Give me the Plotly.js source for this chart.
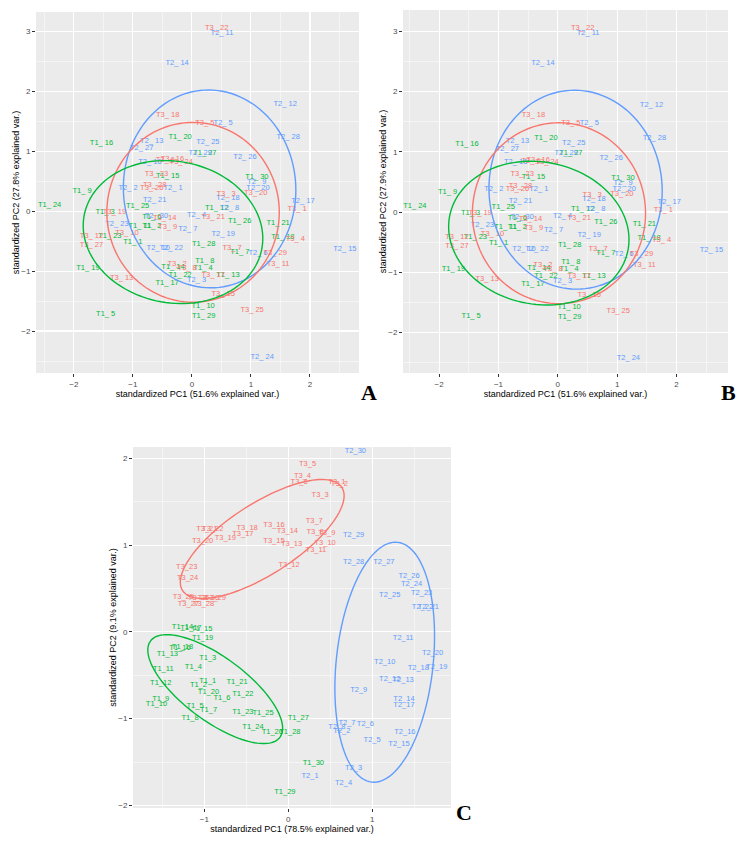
<!DOCTYPE html>
<html>
<head>
<meta charset="utf-8">
<script src="https://cdn.plot.ly/plotly-3.0.1.min.js"></script>
<style>html,body{margin:0;padding:0;background:#fff;}#chart{width:754px;height:842px;}</style>
</head>
<body>
<div id="chart"></div>
<script>
// ---------- Panels A and B (same scores) ----------
const AB_T1_ids = [16,20,9,24,15,25,3,6,11,2,1,23,19,5,14,22,17,10,29,13,8,4,28,7,26,21,18,12,30,27];
const AB_T1_x   = [-1.53,-0.20,-1.86,-2.41,-0.41,-0.92,-1.47,-0.68,-0.88,-0.68,-1.00,-1.39,-1.76,-1.46,-0.32,-0.20,-0.42,0.19,0.20,0.61,0.22,0.19,0.20,0.81,0.81,1.46,1.54,0.42,1.10,0.22];
const AB_T1_y   = [1.13,1.23,0.33,0.10,0.58,0.08,-0.02,-0.10,-0.25,-0.25,-0.52,-0.42,-0.95,-1.72,-0.93,-1.07,-1.20,-1.58,-1.75,-1.07,-0.83,-0.95,-0.55,-0.68,-0.17,-0.20,-0.43,0.05,0.57,0.97];

const AB_T2_ids = [11,14,12,5,28,25,26,13,27,16,2,21,23,7,4,19,18,9,20,17,15,24,6,3,1,10,22,8,30,29];
const AB_T2_x   = [0.51,-0.25,1.58,0.53,1.63,0.27,0.90,-0.68,-0.85,-0.71,-1.08,-0.63,-1.27,-0.07,0.08,0.53,0.61,1.10,1.12,1.88,2.59,1.19,1.12,0.08,-0.32,-0.57,-0.35,0.64,-0.60,0.14];
const AB_T2_y   = [2.97,2.47,1.78,1.47,1.23,1.15,0.90,1.17,1.05,0.82,0.38,0.18,-0.22,-0.30,-0.07,-0.38,0.22,0.48,0.38,0.17,-0.63,-2.43,-0.70,-1.15,0.38,-0.62,-0.62,0.05,-0.08,0.97];

const AB_T3_ids = [22,18,5,6,16,24,23,28,26,3,20,21,14,9,10,12,27,13,2,8,17,7,15,25,11,4,1,29,19];
const AB_T3_x   = [0.42,-0.41,0.22,-0.45,-0.33,-0.18,-0.60,-0.63,-0.68,0.58,1.08,0.36,-0.46,-0.41,-1.10,-1.70,-1.70,-1.19,-0.25,-0.08,0.36,0.68,0.53,1.02,1.46,1.75,1.78,1.41,-1.31];
const AB_T3_y   = [3.05,1.60,1.47,0.85,0.86,0.82,0.62,0.43,0.38,0.28,0.30,-0.10,-0.12,-0.27,-0.37,-0.42,-0.57,-1.12,-0.88,-0.95,-1.07,-0.62,-1.38,-1.65,-0.88,-0.47,0.03,-0.70,-0.02];

// ellipse parameters: [cx, cy, semi-major, semi-minor, angle deg]
const AB_T1_ell = [-0.32,-0.35,1.53,1.18,-10];
const AB_T2_ell = [0.30,0.37,1.65,1.46,93];
const AB_T3_ell = [0.02,-0.02,1.50,1.46,90];

// ---------- Panel C ----------
const C_T1_ids = [14,17,15,19,16,18,13,3,11,4,12,1,2,21,20,22,6,9,10,5,7,23,25,8,27,24,26,28,30,29];
const C_T1_x   = [-1.26,-1.16,-1.03,-1.02,-1.29,-1.26,-1.44,-0.96,-1.49,-1.13,-1.52,-0.96,-1.07,-0.61,-0.95,-0.54,-0.79,-1.52,-1.57,-1.11,-0.95,-0.54,-0.30,-1.17,0.12,-0.42,-0.19,0.02,0.30,-0.04];
const C_T1_y   = [0.06,0.04,0.03,-0.07,-0.19,-0.18,-0.26,-0.30,-0.43,-0.41,-0.59,-0.57,-0.61,-0.58,-0.69,-0.72,-0.76,-0.77,-0.83,-0.86,-0.90,-0.93,-0.94,-1.00,-0.99,-1.10,-1.16,-1.16,-1.51,-1.85];

const C_T2_ids = [30,29,28,27,26,24,23,25,22,21,11,20,10,18,19,12,13,9,14,17,7,8,2,6,16,5,15,3,1,4];
const C_T2_x   = [0.80,0.78,0.78,1.14,1.44,1.47,1.59,1.21,1.60,1.67,1.37,1.72,1.15,1.55,1.77,1.21,1.37,0.84,1.38,1.38,0.70,0.58,0.64,0.92,1.39,1.00,1.32,0.78,0.26,0.66];
const C_T2_y   = [2.08,1.11,0.80,0.80,0.64,0.55,0.45,0.42,0.29,0.29,-0.07,-0.24,-0.35,-0.42,-0.41,-0.55,-0.56,-0.67,-0.77,-0.84,-1.05,-1.10,-1.14,-1.06,-1.15,-1.25,-1.29,-1.57,-1.66,-1.74];

const C_T3_ids = [5,4,6,3,1,2,7,8,9,10,11,12,13,14,15,16,17,18,19,20,21,22,23,24,25,26,29,27,28,30];
const C_T3_x   = [0.23,0.17,0.13,0.38,0.58,0.61,0.31,0.32,0.46,0.44,0.33,0.01,0.04,-0.01,-0.17,-0.17,-0.54,-0.49,-0.75,-1.02,-0.97,-0.90,-1.21,-1.20,-1.25,-1.07,-0.87,-1.19,-1.01,-0.95];
const C_T3_y   = [1.93,1.79,1.72,1.57,1.73,1.70,1.28,1.15,1.14,1.02,0.94,0.77,1.01,1.16,1.04,1.23,1.13,1.19,1.08,1.05,1.18,1.18,0.75,0.62,0.40,0.39,0.39,0.32,0.32,0.39];

const C_T1_ell = [-0.87,-0.66,0.95,0.37,-35.4];
const C_T2_ell = [1.15,-0.35,1.39,0.577,83.6];
const C_T3_ell = [-0.31,1.07,1.12,0.41,31.8];

// axis labels
const AB_xTitle = 'standardized PC1 (51.6% explained var.)';
const A_yTitle  = 'standardized PC2 (27.8% explained var.)';
const B_yTitle  = 'standardized PC2 (27.9% explained var.)';
const C_xTitle  = 'standardized PC1 (78.5% explained var.)';
const C_yTitle  = 'standardized PC2 (9.1% explained var.)';
const AB_ticks = [-2,-1,0,1,2,3];
const C_ticks  = [-2,-1,0,1,2];

// ---------- styling ----------
const COL = {T1:'#00BA38', T2:'#619CFF', T3:'#F8766D'};
const FONT = 'Liberation Sans, Arial, Helvetica, sans-serif';

function textTrace(ids, xs, ys, group, sep, xa, ya){
  return {
    type:'scatter', mode:'text', x:xs, y:ys,
    text: ids.map(i => group + sep + i),
    textposition:'middle center',
    textfont:{family:FONT, size:7.5, color:COL[group]},
    xaxis:xa, yaxis:ya, hoverinfo:'skip', showlegend:false
  };
}
function ellipseShape(p, group, xref, yref){
  const [cx,cy,a,b,ang] = p;
  const t = ang*Math.PI/180, n = 120;
  let d = '';
  for(let k=0;k<=n;k++){
    const s = 2*Math.PI*k/n;
    const ex = a*Math.cos(s), ey = b*Math.sin(s);
    const x = cx + ex*Math.cos(t) - ey*Math.sin(t);
    const y = cy + ex*Math.sin(t) + ey*Math.cos(t);
    d += (k===0?'M':'L') + x.toFixed(4) + ',' + y.toFixed(4);
  }
  d += 'Z';
  return {type:'path', path:d, xref:xref, yref:yref, line:{color:COL[group], width:1.4}, layer:'above'};
}
function axis(domain, range, tickvals, anchor, title, standoff){
  return {
    domain:domain, range:range, anchor:anchor, tickvals:tickvals,
    showgrid:true, gridcolor:'#FFFFFF', gridwidth:1.1, zeroline:false, showline:false,
    ticks:'outside', ticklen:3, tickwidth:1, tickcolor:'#333333',
    tickfont:{family:FONT, size:8, color:'#4D4D4D'},
    minor:{dtick:0.5, tick0:0, showgrid:true, gridcolor:'#FFFFFF', gridwidth:0.5, ticks:''},
    title:{text:title, font:{family:FONT, size:9, color:'#000000'}, standoff:standoff},
    fixedrange:true
  };
}

const traces = [
  textTrace(AB_T1_ids, AB_T1_x, AB_T1_y, 'T1', '_ ', 'x', 'y'),
  textTrace(AB_T2_ids, AB_T2_x, AB_T2_y, 'T2', '_ ', 'x', 'y'),
  textTrace(AB_T3_ids, AB_T3_x, AB_T3_y, 'T3', '_ ', 'x', 'y'),
  textTrace(AB_T1_ids, AB_T1_x, AB_T1_y, 'T1', '_ ', 'x2', 'y2'),
  textTrace(AB_T2_ids, AB_T2_x, AB_T2_y, 'T2', '_ ', 'x2', 'y2'),
  textTrace(AB_T3_ids, AB_T3_x, AB_T3_y, 'T3', '_ ', 'x2', 'y2'),
  textTrace(C_T1_ids, C_T1_x, C_T1_y, 'T1', '_', 'x3', 'y3'),
  textTrace(C_T2_ids, C_T2_x, C_T2_y, 'T2', '_', 'x3', 'y3'),
  textTrace(C_T3_ids, C_T3_x, C_T3_y, 'T3', '_', 'x3', 'y3')
];

const shapes = [
  ellipseShape(AB_T2_ell,'T2','x','y'), ellipseShape(AB_T3_ell,'T3','x','y'), ellipseShape(AB_T1_ell,'T1','x','y'),
  ellipseShape(AB_T2_ell,'T2','x2','y2'), ellipseShape(AB_T3_ell,'T3','x2','y2'), ellipseShape(AB_T1_ell,'T1','x2','y2'),
  ellipseShape(C_T2_ell,'T2','x3','y3'), ellipseShape(C_T3_ell,'T3','x3','y3'), ellipseShape(C_T1_ell,'T1','x3','y3')
];

const letterFont = {family:'Liberation Serif, Times New Roman, serif', size:22, color:'#000'};
const layout = {
  width:754, height:842, margin:{l:0,r:0,t:0,b:0},
  paper_bgcolor:'#FFFFFF', plot_bgcolor:'#EBEBEB', showlegend:false,
  xaxis:  axis([36/754, 359/754], [-2.64,2.83], AB_ticks, 'y', AB_xTitle, 1),
  yaxis:  axis([1-373/842, 1-12/842], [-2.70,3.32], AB_ticks, 'x', A_yTitle, 0),
  xaxis2: axis([403/754, 728/754], [-2.61,2.87], AB_ticks, 'y2', AB_xTitle, 1),
  yaxis2: axis([1-373/842, 1-10/842], [-2.67,3.35], AB_ticks, 'x2', B_yTitle, 0),
  xaxis3: axis([133/754, 451/754], [-1.85,1.94], C_ticks, 'y3', C_xTitle, 1),
  yaxis3: axis([1-808/842, 1-447/842], [-2.03,2.13], C_ticks, 'x3', C_yTitle, 0),
  shapes:shapes,
  annotations:[
    {text:'<b>A</b>', x:369/754, y:1-392/842, xref:'paper', yref:'paper', showarrow:false, font:letterFont},
    {text:'<b>B</b>', x:738/754, y:1-392/842, xref:'paper', yref:'paper', showarrow:false, font:letterFont},
    {text:'<b>C</b>', x:464/754, y:1-827/842, xref:'paper', yref:'paper', showarrow:false, font:letterFont}
  ]
};

Plotly.newPlot('chart', traces, layout, {staticPlot:true, displayModeBar:false});
</script>
</body>
</html>
